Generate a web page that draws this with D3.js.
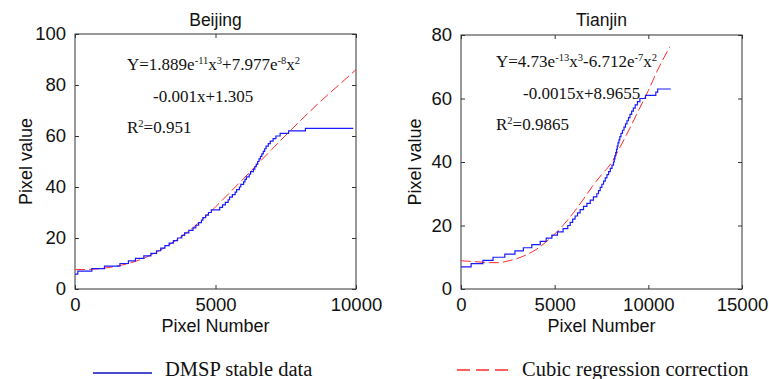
<!DOCTYPE html>
<html><head><meta charset="utf-8">
<script src="https://cdn.jsdelivr.net/npm/d3@7/dist/d3.min.js"></script>
<style>
body{margin:0;background:#fff;}
svg{display:block;}
</style></head>
<body><svg id="chart" width="769" height="379"></svg>
<script>
// ---------- DATA ----------
const beijingTitle = "Beijing";
const tianjinTitle = "Tianjin";
const beijingXTicks = [0, 5000, 10000];
const beijingYTicks = [0, 20, 40, 60, 80, 100];
const tianjinXTicks = [0, 5000, 10000, 15000];
const tianjinYTicks = [0, 20, 40, 60, 80];

// DMSP stable data (staircase: [pixel number where level starts, pixel value])
const beijingStable = [[0,5.8],[100,7],[600,8],[1050,9],[1600,10],[1900,11],[2150,12],[2450,13],[2700,14],[2900,15],[3050,16],[3200,17],[3350,18],[3500,19],[3650,20],[3800,21],[3900,22],[4050,23],[4200,24],[4300,25],[4400,26],[4500,27],[4550,28],[4650,29],[4750,30],[4850,31],[5150,32],[5250,33],[5350,34],[5450,35],[5500,36],[5600,37],[5700,38],[5750,39],[5850,40],[5900,41],[6000,42],[6050,43],[6100,44],[6200,45],[6250,46],[6350,47],[6400,48],[6450,49],[6500,50],[6550,51],[6600,52],[6650,53],[6700,54],[6750,55],[6800,56],[6880,57],[6950,58],[7050,59],[7150,60],[7300,61],[7600,62],[8200,63],[9900,63]];
// Cubic regression correction
const beijingFit = [[0,7.6],[500,7.7],[1000,8.1],[1500,9.0],[2000,10.3],[2500,12.3],[3000,15.0],[3500,18.4],[4000,22.3],[4500,26.9],[5000,32.2],[5500,37.7],[6000,43.3],[6500,49.0],[7000,54.7],[7500,60.3],[8000,65.8],[8500,71.1],[9000,76.2],[9500,81.1],[10000,86.0]];

const tianjinStable = [[0,7],[540,8],[1170,9],[1710,10],[2340,11],[2880,12],[3330,13],[3780,14],[4230,15],[4550,16],[4850,17],[5150,18],[5450,19],[5700,20],[5830,21],[5960,22],[6090,23],[6220,24],[6360,25],[6540,26],[6720,27],[6900,28],[7070,29],[7250,30],[7340,31],[7430,32],[7520,33],[7610,34],[7700,35],[7790,36],[7880,37],[7970,38],[8060,39],[8140,40],[8180,41],[8220,42],[8260,43],[8300,44],[8340,45],[8380,46],[8430,47],[8480,48],[8540,49],[8620,50],[8700,51],[8780,52],[8860,53],[8940,54],[9020,55],[9110,56],[9200,57],[9300,58],[9420,59],[9550,60],[9850,61],[10400,62],[10500,63],[11200,63]];
const tianjinFit = [[0,8.9],[500,8.7],[1000,8.5],[1500,8.3],[2000,8.3],[2500,8.8],[3000,9.6],[3500,10.8],[4000,12.4],[4500,14.6],[5000,17.3],[5500,20.4],[6000,24.0],[6500,28.0],[7000,32.2],[7500,36.0],[8000,39.5],[8500,44.8],[9000,50.5],[9500,56.5],[10000,62.5],[10500,69.0],[11150,76.3]];

const beijingEq = [["Y=1.889e",""],["-11","sup"],["x",""],["3","sup"],["+7.977e",""],["-8","sup"],["x",""],["2","sup"]];
const beijingEq2 = "-0.001x+1.305";
const beijingR2 = [["R",""],["2","sup"],["=0.951",""]];
const tianjinEq = [["Y=4.73e",""],["-13","sup"],["x",""],["3","sup"],["-6.712e",""],["-7","sup"],["x",""],["2","sup"]];
const tianjinEq2 = "-0.0015x+8.9655";
const tianjinR2 = [["R",""],["2","sup"],["=0.9865",""]];

const xLabel = "Pixel Number";
const yLabel = "Pixel value";
const legendLabels = ["DMSP stable data", "Cubic regression correction"];

// ---------- DRAW ----------
const svg = d3.select("#chart");
const SANS = "'Liberation Sans', Arial, sans-serif";
const SERIF = "'Liberation Serif', 'Times New Roman', serif";
const BLUE = "#1a1aff";
const RED = "#ff2a2a";

function rich(g, x, y, parts, size) {
  const t = g.append("text").attr("x", x).attr("y", y)
    .attr("font-family", SERIF).attr("font-size", size).attr("fill", "#111");
  let up = false;
  parts.forEach(([s, k]) => {
    const sp = t.append("tspan").text(s);
    if (k === "sup" && !up) { sp.attr("dy", -6).attr("font-size", size * 0.62); up = true; }
    else if (k === "sup") { sp.attr("font-size", size * 0.62); }
    else if (up) { sp.attr("dy", 6); up = false; }
  });
}

function panel(cfg) {
  const g = svg.append("g");
  const x = d3.scaleLinear().domain(cfg.xd).range([cfg.l, cfg.r]);
  const y = d3.scaleLinear().domain(cfg.yd).range([cfg.b, cfg.t]);

  const axB = g.append("g").attr("transform", `translate(0,${cfg.b})`)
    .call(d3.axisBottom(x).tickValues(cfg.xt).tickSizeInner(-4).tickSizeOuter(0).tickPadding(9).tickFormat(d3.format("d")));
  const axT = g.append("g").attr("transform", `translate(0,${cfg.t})`)
    .call(d3.axisTop(x).tickValues(cfg.xt).tickSizeInner(-4).tickSizeOuter(0).tickFormat(""));
  const axL = g.append("g").attr("transform", `translate(${cfg.l},0)`)
    .call(d3.axisLeft(y).tickValues(cfg.yt).tickSizeInner(-4).tickSizeOuter(0).tickPadding(9).tickFormat(d3.format("d")));
  const axR = g.append("g").attr("transform", `translate(${cfg.r},0)`)
    .call(d3.axisRight(y).tickValues(cfg.yt).tickSizeInner(-4).tickSizeOuter(0).tickFormat(""));
  [axB, axT, axL, axR].forEach(a => {
    a.select(".domain").remove();
    a.selectAll("line").attr("stroke", "#333");
    a.selectAll("text").attr("font-family", SANS).attr("font-size", 18.5).attr("fill", "#111");
  });

  g.append("rect").attr("x", cfg.l).attr("y", cfg.t)
    .attr("width", cfg.r - cfg.l).attr("height", cfg.b - cfg.t)
    .attr("fill", "none").attr("stroke", "#333").attr("stroke-width", 1);

  const line = d3.line().x(d => x(d[0])).y(d => y(d[1]));
  g.append("path").datum(cfg.fit).attr("d", line.curve(d3.curveMonotoneX))
    .attr("fill", "none").attr("stroke", RED).attr("stroke-width", 1)
    .attr("stroke-dasharray", "10,4");
  g.append("path").datum(cfg.stable).attr("d", d3.line().x(d => x(d[0])).y(d => y(d[1])).curve(d3.curveStepAfter))
    .attr("fill", "none").attr("stroke", BLUE).attr("stroke-width", 1.2);

  g.append("text").attr("x", (cfg.l + cfg.r) / 2).attr("y", 26).attr("text-anchor", "middle")
    .attr("font-family", SANS).attr("font-size", 17.5).attr("fill", "#111").text(cfg.title);
  g.append("text").attr("x", (cfg.l + cfg.r) / 2).attr("y", 332).attr("text-anchor", "middle")
    .attr("font-family", SANS).attr("font-size", 18).attr("fill", "#111").text(xLabel);
  g.append("text").attr("transform", `translate(${cfg.yl},${(cfg.t + cfg.b) / 2}) rotate(-90)`)
    .attr("text-anchor", "middle").attr("font-family", SANS).attr("font-size", 18).attr("fill", "#111").text(yLabel);

  rich(g, cfg.eqx, cfg.eqy[0], cfg.eq, 17);
  g.append("text").attr("x", cfg.eq2x).attr("y", cfg.eqy[1]).attr("font-family", SERIF)
    .attr("font-size", 17).attr("fill", "#111").text(cfg.eq2);
  rich(g, cfg.eqx, cfg.eqy[2], cfg.r2, 17);
}

panel({l: 75, r: 356, t: 34, b: 289, xd: [0, 10000], yd: [0, 100], xt: beijingXTicks, yt: beijingYTicks,
  stable: beijingStable, fit: beijingFit, title: beijingTitle, yl: 32,
  eq: beijingEq, eq2: beijingEq2, r2: beijingR2, eqx: 127, eq2x: 153, eqy: [70, 102, 133]});
panel({l: 461, r: 742, t: 35, b: 289, xd: [0, 15000], yd: [0, 80], xt: tianjinXTicks, yt: tianjinYTicks,
  stable: tianjinStable, fit: tianjinFit, title: tianjinTitle, yl: 421,
  eq: tianjinEq, eq2: tianjinEq2, r2: tianjinR2, eqx: 496, eq2x: 523, eqy: [67, 99, 130]});

// legend
const lg = svg.append("g");
lg.append("line").attr("x1", 93).attr("x2", 152).attr("y1", 373).attr("y2", 373)
  .attr("stroke", "#1010c0").attr("stroke-width", 1.6);
lg.append("text").attr("x", 165).attr("y", 376).attr("font-family", SERIF).attr("font-size", 20.5)
  .attr("fill", "#111").text(legendLabels[0]);
lg.append("line").attr("x1", 457).attr("x2", 508).attr("y1", 370).attr("y2", 370)
  .attr("stroke", RED).attr("stroke-width", 1.6).attr("stroke-dasharray", "13,6");
lg.append("text").attr("x", 522).attr("y", 376).attr("font-family", SERIF).attr("font-size", 20.5)
  .attr("fill", "#111").text(legendLabels[1]);
</script>
</body></html>
